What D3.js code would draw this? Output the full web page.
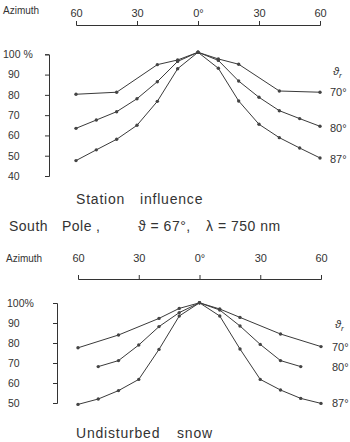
<!DOCTYPE html>
<html>
<head>
<meta charset="utf-8">
<script src="https://cdn.jsdelivr.net/npm/d3@7"></script>
<style>
  body { margin: 0; background: #fff; }
  svg { font-family: "Liberation Sans", Arial, sans-serif; fill: #333; }
  .domain, .tick line { stroke: #333; }
  .curve { fill: none; stroke: #3a3a3a; stroke-width: 1; }
  .dot { fill: #444; }
</style>
</head>
<body>
<div id="chart"></div>
<script>
// azimuth ticks and sampling
var azTicks = [-60, -30, 0, 30, 60]
var azCoarse = [-60, -40, -20, -10, 0, 10, 20, 40, 60]
var azFine = [-60, -50, -40, -30, -20, -10, 0, 10, 20, 30, 40, 50, 60]
var azSnow80 = [-50, -40, -30, -20, -10, 0, 10, 20, 30, 40, 50]

// Station influence (top panel), reflectance %
var station70 = [80.3, 81.3, 94.9, 97.2, 101, 97.7, 95.1, 81.9, 81.3]
var station80 = [63.5, 67.6, 71.7, 78.1, 86.5, 96.5, 101, 97, 86.8, 78.8, 72.2, 68.3, 64.5]
var station87 = [47.6, 52.9, 58.1, 65.0, 76.8, 92.9, 101, 93.1, 77, 65.5, 58.9, 53.8, 48.9]

// Undisturbed snow (bottom panel)
var snow70 = [77.6, 84, 92.3, 97.3, 100.1, 97, 92.8, 84.5, 78.2]
var snow80 = [68.2, 71.2, 79, 88.2, 95.2, 100.1, 96.5, 88.5, 79.3, 71.2, 68.2]
var snow87 = [49.3, 52, 56.2, 61.8, 76.8, 93.5, 100.1, 93.5, 77, 61.8, 56.5, 52.3, 49.8]

var seriesLabels = ['70°', '80°', '87°']
var yTicksTop = [40, 50, 60, 70, 80, 90, 100]
var yTicksBottom = [50, 60, 70, 80, 90, 100]

var width = 350, height = 442

var svg = d3.select("#chart")
  .append("svg")
  .attr("width", width)
  .attr("height", height)

var zip = (xs, ys) => xs.map((x, i) => ({az: x, v: ys[i]}))

var panels = [
  {
    xRange: [76, 320], axisY: 25, labelPad: 4.5, azLabel: [3, 14],
    yDomain: [40, 100], yRange: [176, 54.3], axisX: 49, ticks: yTicksTop, pct: '100 %',
    yLabelX: [3, 8],
    series: [zip(azCoarse, station70), zip(azFine, station80), zip(azFine, station87)],
    legendY: [96, 132, 163], legendX: 330, thetaPos: [333, 75]
  },
  {
    xRange: [78, 321], axisY: 279, labelPad: 13, azLabel: [6, 262],
    yDomain: [50, 100], yRange: [403, 303], axisX: 57, ticks: yTicksBottom, pct: '100%',
    yLabelX: [7, 8],
    series: [zip(azCoarse, snow70), zip(azSnow80, snow80), zip(azFine, snow87)],
    legendY: [351, 371, 407], legendX: 332, thetaPos: [335, 328]
  }
]

panels.forEach(function(p) {
  var xScale = d3.scaleLinear().domain([-60, 60]).range(p.xRange)
  var yScale = d3.scaleLinear().domain(p.yDomain).range(p.yRange)

  // Azimuth axis on top
  var xAxis = d3.axisTop(xScale)
    .tickValues(azTicks)
    .tickSize(4)
    .tickPadding(p.labelPad)
    .tickFormat(d => d === 0 ? '0°' : Math.abs(d))

  svg.append("g")
    .attr("transform", `translate(0,${p.axisY})`)
    .call(xAxis)
    .call(g => g.selectAll("text").style("font-size", "11px").attr("fill", "#333"))
    .call(g => g.select(".domain").attr("stroke-width", 1))

  svg.append("text")
    .attr("x", p.azLabel[0])
    .attr("y", p.azLabel[1])
    .style("font-size", "10px")
    .text("Azimuth")

  // Vertical percent axis
  var yAxis = d3.axisLeft(yScale)
    .tickValues(p.ticks)
    .tickSize(4)
    .tickFormat(d => d === 100 ? p.pct : d)

  svg.append("g")
    .attr("transform", `translate(${p.axisX},0)`)
    .call(yAxis)
    .call(g => g.selectAll("text")
      .style("font-size", "10.5px")
      .attr("fill", "#333")
      .attr("text-anchor", "start")
      .attr("x", d => (d === 100 ? p.yLabelX[0] : p.yLabelX[1]) - p.axisX))

  var line = d3.line()
    .x(d => xScale(d.az))
    .y(d => yScale(d.v))

  p.series.forEach(function(s, i) {
    svg.append("path")
      .datum(s)
      .attr("class", "curve")
      .attr("d", line)

    svg.selectAll(null)
      .data(s)
      .enter()
      .append("circle")
      .attr("class", "dot")
      .attr("cx", d => xScale(d.az))
      .attr("cy", d => yScale(d.v))
      .attr("r", 1.7)

    svg.append("text")
      .attr("x", p.legendX)
      .attr("y", p.legendY[i])
      .style("font-size", "11px")
      .text(seriesLabels[i])
  })

  // theta_r legend header
  var th = svg.append("text")
    .attr("x", p.thetaPos[0])
    .attr("y", p.thetaPos[1])
    .style("font-size", "11px")
    .style("font-style", "italic")
  th.append("tspan").text("ϑ")
  th.append("tspan").attr("dy", 3).style("font-size", "8px").text("r")
})

// captions
function caption(y, parts, spacing) {
  var t = svg.append("text")
    .attr("y", y)
    .style("font-size", "14px")
    .style("letter-spacing", spacing + "px")
  parts.forEach(pt => t.append("tspan").attr("x", pt[0]).text(pt[1]))
}

caption(204, [[76, 'Station'], [140, 'influence']], 0.8)
caption(231, [[9, 'South'], [62, 'Pole'], [96, ','], [138, 'ϑ = 67°,'], [206, 'λ = 750 nm']], 0.5)
caption(438, [[76, 'Undisturbed'], [177, 'snow']], 0.8)
</script>
</body>
</html>
